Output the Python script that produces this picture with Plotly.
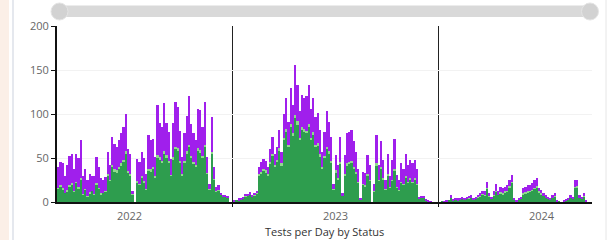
import pandas as pd
import plotly.graph_objects as go

# Daily test counts, sampled every 4 days (Feb 2022 - Sep 2024)
start_date = "2022-02-26"
step = "4D"

passed = [15,18,14,10,12,18,20,12,22,15,25,8,14,6,10,12,8,20,15,9,
          10,12,30,24,40,35,34,38,42,45,55,33,30,8,0,22,20,28,22,14,
          36,35,38,28,50,48,45,55,50,45,30,48,60,58,45,30,45,55,62,50,
          44,40,58,56,50,62,32,14,55,25,12,13,8,6,6,5,0,0,1,2,
          2,3,4,6,7,8,6,7,10,30,32,36,34,30,44,52,40,46,58,42,
          70,80,62,85,75,95,88,70,82,80,78,85,70,76,62,64,52,38,50,60,
          55,45,14,34,26,44,7,30,42,44,45,38,32,22,3,20,18,30,24,0,
          12,42,24,38,26,14,30,16,24,36,16,13,22,20,28,22,25,22,26,20,
          3,4,4,2,1,0,0,0,0,0,1,0,1,2,5,2,3,2,3,4,
          3,4,4,5,3,4,5,6,8,7,15,6,4,7,12,8,10,9,11,12,
          17,22,3,1,3,4,9,10,11,12,13,15,17,11,9,7,5,4,3,5,
          6,1,1,0,1,2,3,5,4,16,17,5,4,6,1]

skipped = [1,1,2,0,2,1,2,1,1,2,2,1,1,1,1,0,1,2,1,1,
           0,1,2,1,2,2,2,2,2,3,3,2,2,1,0,2,1,2,2,1,
           2,2,2,2,3,3,2,3,3,2,1,3,3,3,2,2,2,3,3,2,
           2,2,3,3,2,3,1,1,2,1,1,1,0,0,0,0,0,0,0,0,
           0,0,0,1,0,1,0,1,1,2,2,2,2,2,2,3,2,2,3,2,
           3,3,3,4,3,4,4,3,3,3,3,4,3,3,3,3,2,2,2,3,
           3,2,1,2,1,2,0,2,2,2,2,2,2,1,0,1,1,2,1,0,
           1,2,1,2,1,1,2,1,1,2,1,1,1,1,2,1,2,1,1,1,
           0,0,0,0,0,0,0,0,0,0,0,0,0,0,0,0,0,0,0,0,
           0,0,1,0,0,0,1,1,1,1,1,1,0,1,1,0,1,1,1,1,
           1,1,0,0,0,0,1,1,1,1,1,1,1,1,1,0,0,0,0,0,
           1,0,0,0,0,0,0,0,0,1,1,0,0,1,0]

failed = [24,26,28,20,28,33,33,25,32,33,43,21,23,18,21,18,21,29,24,17,
          15,15,25,17,32,29,26,30,34,37,42,25,23,4,0,25,24,27,26,17,
          38,33,32,21,57,39,38,54,37,33,18,39,51,47,34,19,31,40,56,37,
          32,28,45,45,33,49,18,6,40,14,4,5,2,2,1,1,0,0,1,0,
          2,1,2,2,2,2,2,2,2,8,11,11,11,8,14,19,13,15,21,13,
          27,35,26,40,32,57,41,30,37,35,39,44,33,39,32,34,28,17,28,40,
          33,27,5,17,15,28,3,21,34,34,35,29,23,15,1,13,14,21,17,0,
          7,32,17,29,21,10,23,12,23,34,14,11,21,17,25,19,21,21,21,17,
          3,3,3,1,1,1,0,0,0,0,0,1,1,0,3,1,1,2,2,1,
          2,2,2,3,2,2,2,3,3,4,7,3,2,4,8,4,6,6,5,6,
          7,8,1,1,1,2,6,6,7,6,8,9,9,4,4,3,3,2,1,3,
          3,1,0,0,1,1,1,3,2,8,7,3,2,3,1]

dates = pd.date_range(start_date, periods=len(passed), freq=step)

y_ticks = [0, 50, 100, 150, 200]
x_range = ["2022-02-24", "2024-09-29"]
title_text = "Tests per Day by Status"

GREEN = "#2e9d4e"
LIGHT = "#8fd98c"
PURPLE = "#a01fec"

fig = go.Figure()
fig.add_trace(go.Bar(x=dates, y=passed, name="Passed", marker=dict(color=GREEN, line=dict(width=0))))
fig.add_trace(go.Bar(x=dates, y=skipped, name="Skipped", marker=dict(color=LIGHT, line=dict(width=0))))
fig.add_trace(go.Bar(x=dates, y=failed, name="Failed", marker=dict(color=PURPLE, line=dict(width=0))))

shapes = []
# card border decorations
shapes.append(dict(type="rect", xref="paper", yref="paper", x0=-0.2, x1=-0.0897, y0=-0.5, y1=1.5,
                   fillcolor="#fbefe7", line=dict(width=0), layer="below"))
shapes.append(dict(type="line", xref="paper", yref="paper", x0=-0.0822, x1=-0.0822, y0=-0.5, y1=1.5,
                   line=dict(color="#e5e8ee", width=2), layer="below"))
shapes.append(dict(type="line", xref="paper", yref="paper", x0=1.0262, x1=1.0262, y0=-0.5, y1=1.5,
                   line=dict(color="#e6e6e6", width=1), layer="below"))
# slider track
shapes.append(dict(type="rect", xref="paper", yref="paper", x0=0.0056, x1=0.9963, y0=1.0511, y1=1.1165,
                   fillcolor="#d9d9d9", line=dict(width=0)))
for xc in (0.0047, 0.9963):
    shapes.append(dict(type="circle", xref="paper", yref="paper", xsizemode="pixel", ysizemode="pixel",
                       xanchor=xc, yanchor=1.0824, x0=-8.5, x1=8.5, y0=-8.5, y1=8.5,
                       fillcolor="#d2d2d2", line=dict(color="#e4e4e4", width=1)))

fig.update_layout(
    width=610, height=240,
    margin=dict(l=57, r=18, t=26, b=38),
    barmode="stack", bargap=0,
    showlegend=False,
    plot_bgcolor="white", paper_bgcolor="white",
    font=dict(family="Open Sans, Arial, sans-serif", size=11, color="#666"),
    shapes=shapes,
    annotations=[dict(text=title_text, xref="paper", yref="paper", x=0.5, y=-0.2159,
                      xanchor="center", yanchor="bottom", showarrow=False, borderpad=0,
                      font=dict(size=11, color="#333"))],
)
fig.update_xaxes(
    type="date", range=x_range, dtick="M12", tick0="2022-01-01", tickformat="%Y",
    ticklabelmode="period", showgrid=True, gridcolor="#222", gridwidth=1,
    showline=True, linecolor="#111", linewidth=2, ticks="outside", ticklen=3, tickcolor="#111",
    automargin=False, zeroline=False,
)
fig.update_yaxes(
    range=[0, 200], tickvals=y_ticks, showgrid=True, gridcolor="#f2f2f2",
    showline=True, linecolor="#111", linewidth=2, ticks="outside", ticklen=4, tickcolor="#111",
    automargin=False, zeroline=False,
)

fig.write_html("out.html", config={"displayModeBar": False},
               post_script="document.body.style.margin='0';document.body.style.overflow='hidden';")
